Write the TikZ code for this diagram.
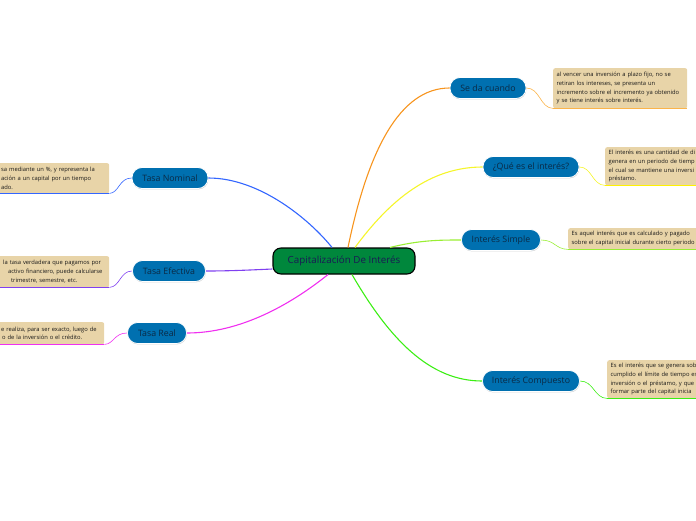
\documentclass[tikz,border=0pt]{standalone}
\usepackage{fontspec}
\setmainfont{Open Sans}
\usetikzlibrary{shadows}
\definecolor{nodeblue}{HTML}{0070B0}
\definecolor{ctrgreen}{HTML}{00873C}
\definecolor{tanbox}{HTML}{E8D4A8}
\definecolor{navytxt}{HTML}{0B2A45}
\definecolor{ctrtxt}{HTML}{1A1A55}
\definecolor{boxtxt}{HTML}{181818}
\definecolor{corange}{HTML}{F7941D}
\definecolor{lorange}{HTML}{FBB44A}
\definecolor{cyellow}{HTML}{F5F52A}
\definecolor{lgreen}{HTML}{99EE33}
\definecolor{cgreen}{HTML}{3CEE14}
\definecolor{cblue}{HTML}{3366FF}
\definecolor{cpurple}{HTML}{8040F0}
\definecolor{cmagenta}{HTML}{F030F0}
\tikzset{
  bnode/.style={fill=nodeblue, draw=white, line width=0.8pt, rounded corners=10pt,
    minimum height=21pt, inner xsep=2pt, text=navytxt,
    font=\fontsize{8.8}{10}\selectfont,
    drop shadow={shadow xshift=0.4pt, shadow yshift=-0.9pt, opacity=0.35, fill=gray}},
  cnode/.style={fill=ctrgreen, draw=black, line width=1.1pt, rounded corners=8pt,
    minimum width=142pt, minimum height=26pt, text=ctrtxt,
    font=\fontsize{9.8}{11}\selectfont},
  tbox/.style={fill=tanbox, rounded corners=2pt, anchor=north west, align=left,
    inner xsep=3.5pt, inner ysep=3pt, text=boxtxt,
    font=\fontsize{5.8}{8.7}\selectfont},
  link/.style={line width=1.1pt},
  sublink/.style={line width=0.6pt},
  uline/.style={line width=1.6pt}
}
\begin{document}
\begin{tikzpicture}[x=1pt,y=-1pt]
\clip (0,0) rectangle (696,520);
\useasboundingbox (0,0) rectangle (696,520);

% central node
\node[cnode] (c) at (344,261) {Capitalización De Interés};

% branch nodes
\node[bnode, minimum width=76pt] (sd) at (488,88) {Se da cuando};
\node[bnode, minimum width=96pt] (qe) at (531,167) {¿Qué es el interés?};
\node[bnode, minimum width=79pt] (is) at (501,240) {Interés Simple};
\node[bnode, minimum width=97pt] (ic) at (531,381) {Interés Compuesto};
\node[bnode, minimum width=76pt] (tn) at (170,178) {Tasa Nominal};
\node[bnode, minimum width=73pt] (te) at (169,271) {Tasa Efectiva};
\node[bnode, minimum width=59pt] (tr) at (157,333) {Tasa Real};

% text boxes
\node[tbox, text width=127pt, minimum height=40pt] (sdt) at (553,68)
  {al vencer una inversión a plazo fijo, no se\\retiran los intereses, se presenta un\\incremento sobre el incremento ya obtenido\\y se tiene interés sobre interés.};
\node[tbox, text width=100pt, minimum height=38pt] (qet) at (605,147)
  {El interés es una cantidad de di\\genera en un periodo de tiemp\\el cual se mantiene una inversi\\préstamo.};
\node[tbox, text width=130pt, minimum height=21pt] (ist) at (568,228)
  {Es aquel interés que es calculado y pagado\\sobre el capital inicial durante cierto periodo};
\node[tbox, text width=100pt, minimum height=38pt] (ict) at (607,360)
  {Es el interés que se genera sob\\cumplido el límite de tiempo es\\inversión o el préstamo, y que\\formar parte del capital inicia};
\node[tbox, text width=103pt, minimum height=30pt, inner xsep=5pt] (tnt) at (-4,163)
  {sa mediante un \%, y representa la\\ación a un capital por un tiempo\\ado.};
\node[tbox, text width=103pt, minimum height=31pt, inner xsep=5pt] (tet) at (-4,256)
  {\hspace*{2pt}la tasa verdadera que pagamos por\\\hspace*{7pt}activo financiero, puede calcularse\\\hspace*{10pt}trimestre, semestre, etc.};
\node[tbox, text width=98pt, minimum height=22pt, inner xsep=5pt] (trt) at (-4,322)
  {e realiza, para ser exacto, luego de\\\hspace*{1pt}o de la inversión o el crédito.};

% main connectors
\draw[link, corange] ([xshift=4pt]c.north) .. controls (368,150) and (400,88) .. (sd.west);
\draw[link, cyellow] ([xshift=11pt]c.north) .. controls (390,200) and (430,167) .. (qe.west);
\draw[link, lgreen] ([xshift=46pt]c.north) .. controls (420,240) and (440,240) .. (is.west);
\draw[link, cgreen] ([xshift=8pt]c.south) .. controls (390,340) and (430,381) .. (ic.west);
\draw[link, cblue] ([xshift=-12pt]c.north) .. controls (310,220) and (260,178) .. (tn.east);
\draw[link, cpurple] ([yshift=-8pt]c.west) .. controls (250,270) and (230,271) .. (te.east);
\draw[link, cmagenta] ([xshift=-16pt]c.south) .. controls (290,305) and (240,333) .. (tr.east);

% sub connectors
\draw[sublink, lorange] (sd.east) .. controls (540,88) and (540,108) .. (sdt.south west);
\draw[uline, lorange] (sdt.south west) -- (sdt.south east);
\draw[sublink, cyellow] (qe.east) .. controls (592,167) and (592,185) .. (qet.south west);
\draw[uline, yellow] (qet.south west) -- (qet.south east);
\draw[sublink, lgreen] (is.east) .. controls (555,240) and (555,249) .. (ist.south west);
\draw[uline, lgreen] (ist.south west) -- (ist.south east);
\draw[sublink, cgreen] (ic.east) .. controls (594,381) and (594,398) .. (ict.south west);
\draw[uline, cgreen] (ict.south west) -- (ict.south east);
\draw[sublink, cblue] (tn.west) .. controls (119,178) and (119,193) .. (tnt.south east);
\draw[uline, cblue] (tnt.south east) -- (tnt.south west);
\draw[sublink, cpurple] (te.west) .. controls (120,271) and (120,287) .. (tet.south east);
\draw[uline, cpurple] (tet.south east) -- (tet.south west);
\draw[sublink, cmagenta] (tr.west) .. controls (114,333) and (114,344) .. (trt.south east);
\draw[uline, cmagenta] (trt.south east) -- (trt.south west);
\end{tikzpicture}
\end{document}
